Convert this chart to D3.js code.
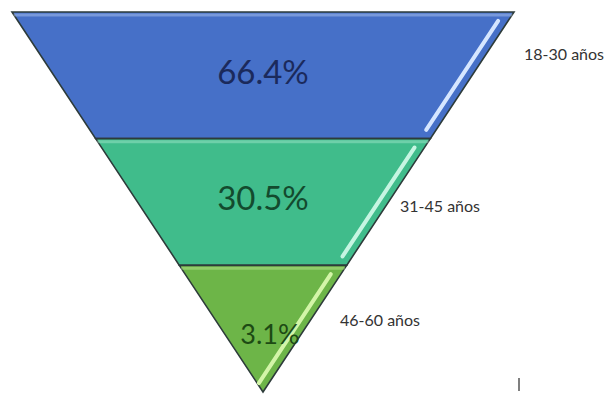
<!DOCTYPE html>
<html>
<head>
<meta charset="utf-8">
<script src="https://cdn.jsdelivr.net/npm/d3@7"></script>
<style>
  body { margin: 0; background: #fff; }
  svg { display: block; }
</style>
</head>
<body>
<div id="chart"></div>
<script>
// data
const categories = ["18-30 años", "31-45 años", "46-60 años"];
const values = [66.4, 30.5, 3.1];
const fills = ["#4670c8", "#40bc8b", "#6db548"];
const stripes = ["#d6e6ff", "#c6f5e2", "#d3f5a8"];
const valueColors = ["#1b2a5c", "#134a2e", "#1d4a14"];

const WIDTH = 615, HEIGHT = 394;
const cx = 263;

const svg = d3.select("#chart").append("svg")
  .attr("width", WIDTH)
  .attr("height", HEIGHT);

// depth scale: 0 = top of funnel, 3 = apex
const yScale = d3.scaleLinear().domain([0, categories.length]).range([12, 392]);
const halfW = d3.scaleLinear().domain([0, categories.length]).range([251, 0]);

const band = i => {
  const y0 = yScale(i), y1 = yScale(i + 1);
  return [[cx - halfW(i), y0], [cx + halfW(i), y0], [cx + halfW(i + 1), y1], [cx - halfW(i + 1), y1]];
};

const g = svg.append("g");

g.selectAll("polygon.band")
  .data(categories)
  .enter()
  .append("polygon")
  .attr("class", "band")
  .attr("points", (d, i) => band(i).map(p => p.join(",")).join(" "))
  .attr("fill", (d, i) => fills[i])
  .attr("stroke", "#2d3b3a")
  .attr("stroke-width", 1.6)
  .attr("stroke-linejoin", "miter");

// light line under each band's top edge
g.selectAll("line.top")
  .data(categories)
  .enter()
  .append("line")
  .attr("x1", (d, i) => cx - halfW(i + 0.02))
  .attr("x2", (d, i) => cx + halfW(i + 0.02))
  .attr("y1", (d, i) => yScale(i) + 3)
  .attr("y2", (d, i) => yScale(i) + 3)
  .attr("stroke", (d, i) => stripes[i])
  .attr("stroke-opacity", 0.35)
  .attr("stroke-width", 3);

// glossy stripe along right edge
g.selectAll("line.stripe")
  .data(categories)
  .enter()
  .append("line")
  .attr("class", "stripe")
  .attr("x1", (d, i) => cx + halfW(i + 0.07) - 10)
  .attr("y1", (d, i) => yScale(i + 0.07))
  .attr("x2", (d, i) => cx + halfW(i + 0.93) - 10)
  .attr("y2", (d, i) => yScale(i + 0.93))
  .attr("stroke", (d, i) => stripes[i])
  .attr("stroke-width", 4)
  .attr("stroke-linecap", "round");

// value labels
g.selectAll("text.value")
  .data(values)
  .enter()
  .append("text")
  .attr("x", (d, i) => i === 2 ? cx + 7 : cx)
  .attr("y", (d, i) => yScale(i + 0.5) + (i === 2 ? 8 : 0))
  .attr("text-anchor", "middle")
  .attr("dominant-baseline", "middle")
  .attr("font-family", "Lato, 'Open Sans', sans-serif")
  .attr("font-size", (d, i) => i === 2 ? 27 : 33)
  .attr("fill", (d, i) => valueColors[i])
  .text(d => d.toFixed(1) + "%");

// category labels to the right of each band
const labelPos = [[524, 56], [400, 208], [340, 322]];
g.selectAll("text.cat")
  .data(categories)
  .enter()
  .append("text")
  .attr("x", (d, i) => labelPos[i][0])
  .attr("y", (d, i) => labelPos[i][1])
  .attr("dominant-baseline", "middle")
  .attr("font-family", "Lato, 'Open Sans', sans-serif")
  .attr("font-size", 16)
  .attr("fill", "#333")
  .text(d => d);

// stray tick in the lower right
svg.append("line")
  .attr("x1", 519).attr("x2", 519)
  .attr("y1", 378).attr("y2", 391)
  .attr("stroke", "#555")
  .attr("stroke-width", 1.5);
</script>
</body>
</html>
